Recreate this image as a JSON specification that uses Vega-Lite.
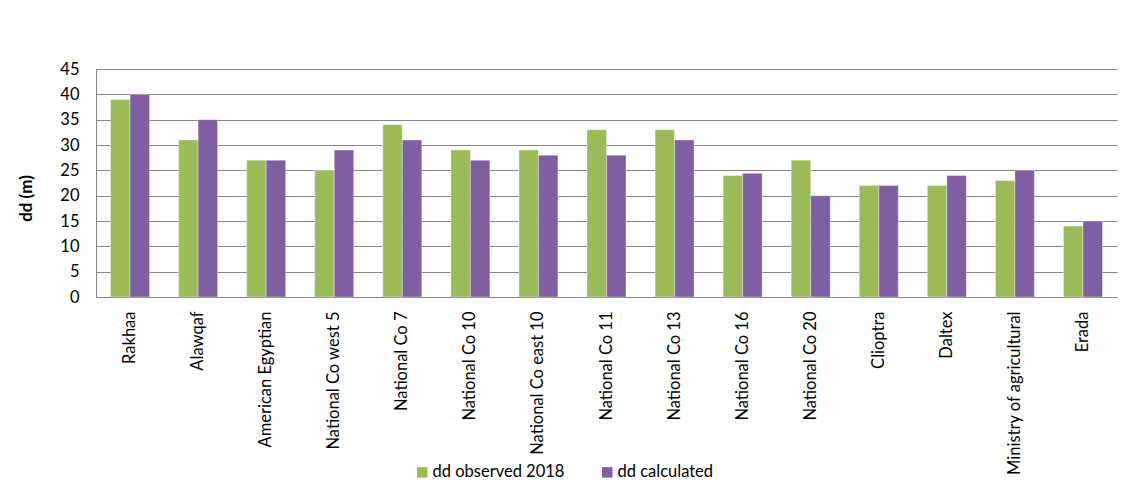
{
  "$schema": "https://vega.github.io/schema/vega-lite/v6.json",
  "autosize": {"type": "none"},
  "padding": {"left": 96, "top": 69, "right": 13, "bottom": 202},
  "width": 1021,
  "height": 228,
  "background": "white",
  "config": {
    "font": "Lato",
    "view": {"stroke": null},
    "axis": {"labelFont": "Lato", "titleFont": "Lato", "labelColor": "#000000", "titleColor": "#000000"}
  },
  "data": {
    "values": [
      {"site": "Rakhaa", "series": "dd observed 2018", "dd": 39},
      {"site": "Rakhaa", "series": "dd calculated", "dd": 40},
      {"site": "Alawqaf", "series": "dd observed 2018", "dd": 31},
      {"site": "Alawqaf", "series": "dd calculated", "dd": 35},
      {"site": "American Egyptian", "series": "dd observed 2018", "dd": 27},
      {"site": "American Egyptian", "series": "dd calculated", "dd": 27},
      {"site": "National Co west 5", "series": "dd observed 2018", "dd": 25},
      {"site": "National Co west 5", "series": "dd calculated", "dd": 29},
      {"site": "National Co 7", "series": "dd observed 2018", "dd": 34},
      {"site": "National Co 7", "series": "dd calculated", "dd": 31},
      {"site": "National Co 10", "series": "dd observed 2018", "dd": 29},
      {"site": "National Co 10", "series": "dd calculated", "dd": 27},
      {"site": "National Co east 10", "series": "dd observed 2018", "dd": 29},
      {"site": "National Co east 10", "series": "dd calculated", "dd": 28},
      {"site": "National Co 11", "series": "dd observed 2018", "dd": 33},
      {"site": "National Co 11", "series": "dd calculated", "dd": 28},
      {"site": "National Co 13", "series": "dd observed 2018", "dd": 33},
      {"site": "National Co 13", "series": "dd calculated", "dd": 31},
      {"site": "National Co 16", "series": "dd observed 2018", "dd": 24},
      {"site": "National Co 16", "series": "dd calculated", "dd": 24.4},
      {"site": "National Co 20", "series": "dd observed 2018", "dd": 27},
      {"site": "National Co 20", "series": "dd calculated", "dd": 20},
      {"site": "Clioptra", "series": "dd observed 2018", "dd": 22},
      {"site": "Clioptra", "series": "dd calculated", "dd": 22},
      {"site": "Daltex", "series": "dd observed 2018", "dd": 22},
      {"site": "Daltex", "series": "dd calculated", "dd": 24},
      {"site": "Ministry of agricultural", "series": "dd observed 2018", "dd": 23},
      {"site": "Ministry of agricultural", "series": "dd calculated", "dd": 25},
      {"site": "Erada", "series": "dd observed 2018", "dd": 14},
      {"site": "Erada", "series": "dd calculated", "dd": 15}
    ]
  },
  "mark": {"type": "bar", "stroke": "#ffffff", "strokeWidth": 0.6, "strokeOpacity": 0.6},
  "encoding": {
    "x": {
      "field": "site",
      "type": "nominal",
      "sort": null,
      "title": null,
      "scale": {"paddingInner": 0.427, "paddingOuter": 0.2135},
      "axis": {
        "labelAngle": -90,
        "labelAlign": "right",
        "labelBaseline": "middle",
        "labelFontSize": 16.5,
        "labelPadding": 14,
        "ticks": false,
        "domainColor": "#868686",
        "labelLimit": 300
      }
    },
    "xOffset": {
      "field": "series",
      "type": "nominal",
      "sort": ["dd observed 2018", "dd calculated"],
      "scale": {"paddingInner": 0, "paddingOuter": 0}
    },
    "y": {
      "field": "dd",
      "type": "quantitative",
      "title": "dd (m)",
      "scale": {"domain": [0, 45], "nice": false},
      "axis": {
        "values": [0, 5, 10, 15, 20, 25, 30, 35, 40, 45],
        "labelFontSize": 16.5,
        "labelPadding": 17,
        "ticks": false,
        "domainColor": "#868686",
        "gridColor": "#868686",
        "gridWidth": 1,
        "titleFontSize": 17,
        "titleFontWeight": "bold",
        "titleX": -61,
        "titleY": 129
      }
    },
    "color": {
      "field": "series",
      "type": "nominal",
      "title": null,
      "scale": {"domain": ["dd observed 2018", "dd calculated"], "range": ["#9BBB59", "#7F5FA1"]},
      "legend": {
        "orient": "none",
        "direction": "horizontal",
        "legendX": 318,
        "legendY": 395,
        "symbolType": "square",
        "symbolSize": 110,
        "symbolStrokeWidth": 0,
        "labelFontSize": 16.5,
        "labelFont": "Lato",
        "labelColor": "#000000",
        "columnPadding": 34,
        "labelOffset": 2
      }
    }
  }
}
